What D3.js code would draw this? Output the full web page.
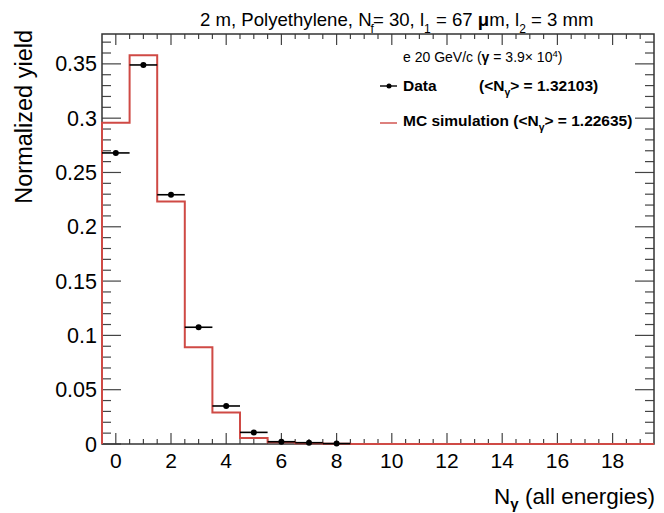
<!DOCTYPE html>
<html>
<head>
<meta charset="utf-8">
<script src="https://cdn.jsdelivr.net/npm/d3@7"></script>
<style>
  body { margin: 0; background: #fff; }
  text { font-family: "Liberation Sans", Arial, sans-serif; fill: #000; }
</style>
</head>
<body>
<svg width="664" height="513"></svg>
<script>
// bin centres (N_gamma) and yields
const bins = [0, 1, 2, 3, 4, 5, 6, 7, 8];
const dataYield = [0.268, 0.349, 0.2295, 0.1075, 0.035, 0.0107, 0.0021, 0.0012, 0.0004];
const mcYield = [0.2957, 0.358, 0.2233, 0.0891, 0.0291, 0.0055, 0.0017, 0.0008, 0.0002];
const xTicks = [0, 2, 4, 6, 8, 10, 12, 14, 16, 18];
const yTicks = [0, 0.05, 0.1, 0.15, 0.2, 0.25, 0.3, 0.35];

const svg = d3.select("svg");
const frameL = 102, frameR = 654, frameT = 34, frameB = 444;
const red = "#cf4a45";

var x = d3.scaleLinear().domain([-0.5, 19.5]).range([frameL, frameR]),
    y = d3.scaleLinear().domain([0, 0.3775]).range([frameB, frameT]);

// minor + major ticks, drawn inwards on all four sides
const g = svg.append("g").attr("stroke", "#444").attr("stroke-width", 1.2);
d3.range(0, 19.5, 0.5).forEach(v => {
    let major = Math.abs(v % 2) < 1e-6, len = major ? 11 : 5;
    g.append("line").attr("x1", x(v)).attr("x2", x(v)).attr("y1", frameB).attr("y2", frameB - len);
    g.append("line").attr("x1", x(v)).attr("x2", x(v)).attr("y1", frameT).attr("y2", frameT + len);
});
d3.range(0, 0.376, 0.01).forEach((v, i) => {
    let major = i % 5 === 0, len = major ? 19 : 9;
    g.append("line").attr("x1", frameL).attr("x2", frameL + len).attr("y1", y(v)).attr("y2", y(v));
    g.append("line").attr("x1", frameR).attr("x2", frameR - len).attr("y1", y(v)).attr("y2", y(v));
});

svg.append("rect")
    .attr("x", frameL).attr("y", frameT)
    .attr("width", frameR - frameL).attr("height", frameB - frameT)
    .attr("fill", "none").attr("stroke", "#333").attr("stroke-width", 1.5);

// tick labels
svg.append("g").selectAll("text").data(xTicks).join("text")
    .attr("x", d => x(d)).attr("y", 468)
    .attr("text-anchor", "middle").attr("font-size", 21)
    .text(d => d);
svg.append("g").selectAll("text").data(yTicks).join("text")
    .attr("x", 97).attr("y", d => y(d) + 7.5)
    .attr("text-anchor", "end").attr("font-size", 21.5)
    .text(d => d3.format("")(d));

// MC histogram as steps
let pts = [[x(-0.5), y(0)]];
bins.forEach((b, i) => {
    pts.push([x(b - 0.5), y(mcYield[i])]);
    pts.push([x(b + 0.5), y(mcYield[i])]);
});
pts.push([x(8.5), y(0)], [x(19.5), y(0)]);
svg.append("path")
    .attr("d", d3.line()(pts))
    .attr("fill", "none").attr("stroke", red).attr("stroke-width", 2);

// data points with horizontal bin-width bars
const pg = svg.append("g");
bins.forEach((b, i) => {
    pg.append("line")
        .attr("x1", x(b - 0.5)).attr("x2", x(b + 0.5))
        .attr("y1", y(dataYield[i])).attr("y2", y(dataYield[i]))
        .attr("stroke", "#000").attr("stroke-width", 1.6);
    pg.append("circle")
        .attr("cx", x(b)).attr("cy", y(dataYield[i])).attr("r", 3)
        .attr("fill", "#000");
});

// title
const t = svg.append("text").attr("x", 200).attr("y", 26).attr("font-size", 18.6);
t.append("tspan").text("2 m, Polyethylene, N");
t.append("tspan").attr("font-size", 12).attr("dy", 7).attr("dx", -1).text("f");
t.append("tspan").attr("dy", -7).attr("dx", -1).text("= 30, l");
t.append("tspan").attr("font-size", 12).attr("dy", 7).text("1");
t.append("tspan").attr("dy", -7).text(" = 67 ");
t.append("tspan").attr("font-weight", "bold").text("μ");
t.append("tspan").text("m, l");
t.append("tspan").attr("font-size", 12).attr("dy", 7).text("2");
t.append("tspan").attr("dy", -7).text(" = 3 mm");

// axis titles
svg.append("text")
    .attr("transform", "translate(32,30) rotate(-90)")
    .attr("text-anchor", "end").attr("font-size", 23.5)
    .text("Normalized yield");
const xl = svg.append("text").attr("x", 655).attr("y", 504)
    .attr("text-anchor", "end").attr("font-size", 22.5);
xl.append("tspan").text("N");
xl.append("tspan").attr("font-size", 15).attr("font-weight", "bold").attr("dy", 5).text("γ");
xl.append("tspan").attr("dy", -5).text(" (all energies)");

// legend
const lg = svg.append("g");
const e = lg.append("text").attr("x", 403).attr("y", 62).attr("font-size", 14);
e.append("tspan").text("e 20 GeV/c (");
e.append("tspan").attr("font-weight", "bold").text("γ");
e.append("tspan").text(" = 3.9× 10");
e.append("tspan").attr("font-size", 9.5).attr("dy", -5).text("4");
e.append("tspan").attr("dy", 5).text(")");

lg.append("line").attr("x1", 380).attr("x2", 397).attr("y1", 86).attr("y2", 86)
    .attr("stroke", "#000").attr("stroke-width", 1.4);
lg.append("circle").attr("cx", 389).attr("cy", 86).attr("r", 2.5).attr("fill", "#000");
lg.append("text").attr("x", 403).attr("y", 91).attr("font-size", 15.5).attr("font-weight", "bold").text("Data");
const d1 = lg.append("text").attr("x", 479).attr("y", 91).attr("font-size", 15.5).attr("font-weight", "bold");
d1.append("tspan").text("(<N");
d1.append("tspan").attr("font-size", 10.5).attr("dy", 5).text("γ");
d1.append("tspan").attr("dy", -5).text("> = 1.32103)");

lg.append("line").attr("x1", 380).attr("x2", 397).attr("y1", 123).attr("y2", 123)
    .attr("stroke", red).attr("stroke-width", 1.4);
const m1 = lg.append("text").attr("x", 403).attr("y", 126).attr("font-size", 15.5).attr("font-weight", "bold");
m1.append("tspan").text("MC simulation (<N");
m1.append("tspan").attr("font-size", 10.5).attr("dy", 5).text("γ");
m1.append("tspan").attr("dy", -5).text("> = 1.22635)");
</script>
</body>
</html>
